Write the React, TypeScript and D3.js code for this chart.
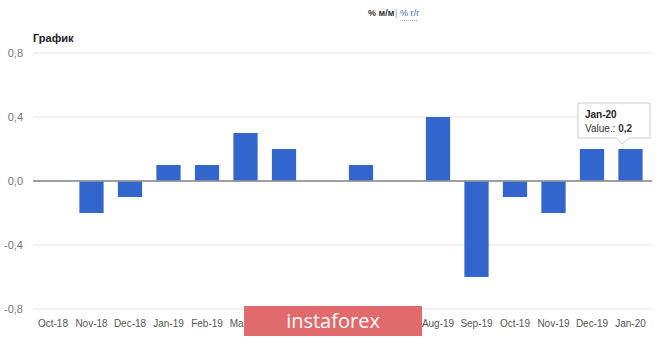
import React from "react";
import * as d3 from "d3";

const categories = ["Oct-18","Nov-18","Dec-18","Jan-19","Feb-19","Mar-19","Apr-19","May-19","Jun-19","Jul-19","Aug-19","Sep-19","Oct-19","Nov-19","Dec-19","Jan-20"];
const values = [0, -0.2, -0.1, 0.1, 0.1, 0.3, 0.2, 0, 0.1, 0, 0.4, -0.6, -0.1, -0.2, 0.2, 0.2];
const yTicks = [0.8, 0.4, 0, -0.4, -0.8];
const tooltipIndex = 15;

const W = 665, H = 337;
const fmt = (v: number) => v.toFixed(1).replace(".", ",");

export default function App() {
  const x = d3.scaleBand<string>().domain(categories).range([33.75, 649.75]).paddingInner(0.37).paddingOuter(0.185);
  const y = d3.scaleLinear().domain([-0.8, 0.8]).range([309, 53]);
  const font = "Arial, 'Liberation Sans', sans-serif";
  const tc = categories[tooltipIndex];
  const tx = (x(tc) as number) + x.bandwidth() / 2;
  const ty = y(values[tooltipIndex]);
  return (
    <svg width={W} height={H} style={{ position: "absolute", left: 0, top: 0, fontFamily: font }}>
      <rect width={W} height={H} fill="#fff" />
      <text x={368} y={16} fontSize={9} fontWeight="bold" fill="#333">% м/м</text>
      <text x={395} y={16} fontSize={9} fill="#999">|</text>
      <text x={400} y={16} fontSize={9} fill="#3a6fb5">% г/г</text>
      <line x1={400} x2={418} y1={20.5} y2={20.5} stroke="#8aa6cc" strokeDasharray="1,1" />
      <text x={33} y={42} fontSize={11} fontWeight="bold" fill="#222">График</text>
      {yTicks.map((t) => (
        <g key={t}>
          <line x1={33} x2={652} y1={y(t)} y2={y(t)} stroke={t === 0 ? "#999" : "#e4e4e4"} strokeWidth={t === 0 ? 1.5 : 1} />
          <text x={23} y={y(t) + 4} fontSize={11} fill="#777" textAnchor="end">{fmt(t)}</text>
        </g>
      ))}
      {values.map((v, i) => v === 0 ? null : (
        <rect key={i} x={x(categories[i])} width={x.bandwidth()} y={Math.min(y(v), y(0))} height={Math.abs(y(v) - y(0))} fill="#3366cc" />
      ))}
      <line x1={33} x2={652} y1={y(0)} y2={y(0)} stroke="#999" strokeWidth={1.5} />
      {categories.map((c) => (
        <text key={c} x={(x(c) as number) + x.bandwidth() / 2} y={327} fontSize={10} fill="#555" textAnchor="middle">{c}</text>
      ))}
      <g>
        <path d={`M578,103 H650 V138 H${tx - 2} L${tx - 8},${ty - 5} L${tx - 14},138 H578 Z`} fill="#fff" stroke="#ccc" strokeWidth={1} />
        <text x={585} y={118} fontSize={10} fontWeight="bold" fill="#222">{tc}</text>
        <text x={585} y={132} fontSize={10} fill="#333">Value.: <tspan fontWeight="bold">{fmt(values[tooltipIndex])}</tspan></text>
      </g>
      <rect x={244} y={306} width={178} height={30} fill="#e06a6c" />
      <text x={333} y={328} fontSize={20} fill="#fff" textAnchor="middle" fontFamily="'Open Sans', sans-serif">instaforex</text>
    </svg>
  );
}
